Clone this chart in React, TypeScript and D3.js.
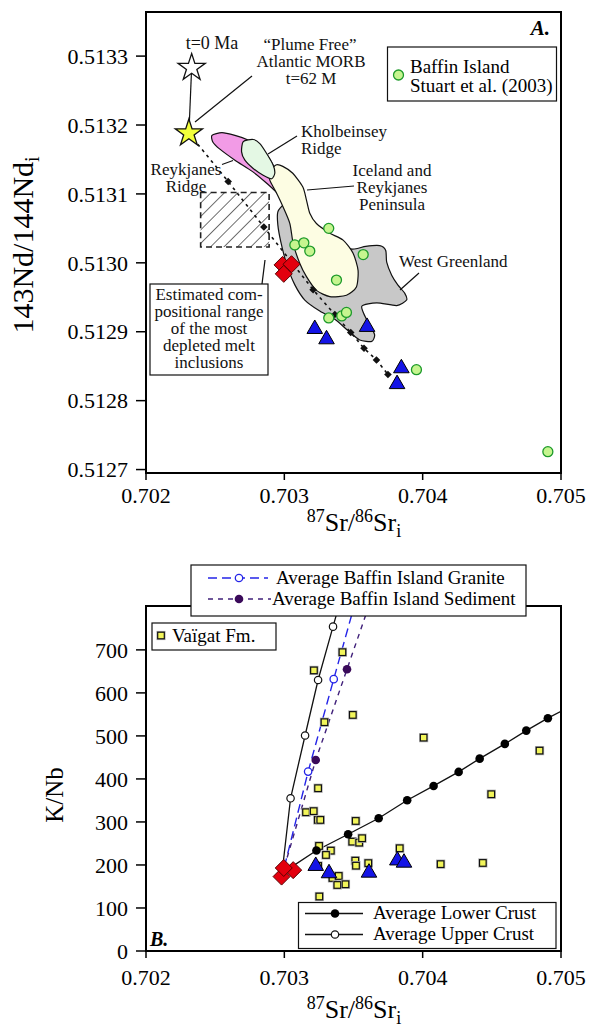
import React from "react";
import * as d3 from "d3";

const FONT = "'Liberation Serif','Times New Roman',Times,serif";

// ---------------- Panel A data ----------------
const srTicks = [0.702, 0.703, 0.704, 0.705];
const ndTicks = [0.5127, 0.5128, 0.5129, 0.513, 0.5131, 0.5132, 0.5133];
const ndTickLabels = ["0.5127", "0.5128", "0.5129", "0.5130", "0.5131", "0.5132", "0.5133"];

const baffinSr = [0.703076, 0.703141, 0.703184, 0.703321, 0.70357, 0.703377, 0.703321, 0.703415, 0.703449, 0.703955, 0.704905];
const baffinNd = [0.513026, 0.513029, 0.513017, 0.51305, 0.513012, 0.512975, 0.51292, 0.512923, 0.512928, 0.512845, 0.512726];

const triSrA = [0.70322, 0.703305, 0.703598, 0.703846, 0.703815];
const triNdA = [0.512904, 0.512889, 0.512907, 0.512847, 0.512824];

const redSrA = [0.702987, 0.703052, 0.702996];
const redNdA = [0.512997, 0.512998, 0.512984];

const mixSr = [0.70231, 0.702594, 0.702852, 0.703208, 0.703365, 0.70348, 0.703576, 0.703666, 0.703749];
const mixNd = [0.513188, 0.513118, 0.513052, 0.512961, 0.512925, 0.512899, 0.512876, 0.512859, 0.512838];

const morbNowSr = 0.70233, morbNowNd = 0.513283;
const morb62Sr = 0.70231, morb62Nd = 0.513188;

const meltBoxSr = [0.702395, 0.70289];
const meltBoxNd = [0.513023, 0.513102];

const pinkField: [number, number][] = [
  [0.702477, 0.513185], [0.702549, 0.513189], [0.702643, 0.513185], [0.702729, 0.513179], [0.702809, 0.513169],
  [0.702881, 0.513155], [0.702931, 0.513137], [0.702982, 0.513117], [0.703032, 0.513094], [0.703061, 0.513077],
  [0.703069, 0.513066], [0.703025, 0.513079], [0.702968, 0.513097], [0.702881, 0.513114], [0.702773, 0.513132],
  [0.702643, 0.513149], [0.702534, 0.513165], [0.702484, 0.513175],
];
const greenField: [number, number][] = [
  [0.702703, 0.513176], [0.702775, 0.513179], [0.702823, 0.513173], [0.702871, 0.513159], [0.702919, 0.513142],
  [0.702931, 0.51313], [0.702908, 0.513122], [0.702847, 0.513127], [0.702775, 0.513137], [0.702715, 0.513149],
  [0.702691, 0.513161],
];
const icelandField: [number, number][] = [
  [0.702895, 0.513132], [0.702939, 0.513142], [0.702989, 0.51314], [0.703061, 0.51313], [0.703134, 0.51311],
  [0.70316, 0.513091], [0.703184, 0.513072], [0.703232, 0.513057], [0.703329, 0.513043], [0.703425, 0.513033],
  [0.703497, 0.513014], [0.703533, 0.512989], [0.703521, 0.512965], [0.703449, 0.512953], [0.703329, 0.512951],
  [0.703232, 0.51296], [0.70316, 0.51298], [0.703112, 0.512999], [0.703064, 0.513028], [0.70304, 0.513057],
  [0.702991, 0.513081], [0.702939, 0.513103], [0.702895, 0.51312],
];
const greenlandField: [number, number][] = [
  [0.702953, 0.513074], [0.702996, 0.513084], [0.703047, 0.513079], [0.703083, 0.513065], [0.703184, 0.513048],
  [0.703365, 0.513033], [0.703487, 0.51302], [0.703588, 0.513024], [0.70369, 0.513025], [0.703733, 0.513018],
  [0.70374, 0.513001], [0.703776, 0.512982], [0.70382, 0.512968], [0.70387, 0.512956], [0.703884, 0.512946],
  [0.703812, 0.512938], [0.703668, 0.512942], [0.70356, 0.512937], [0.703596, 0.512917], [0.703632, 0.512905],
  [0.703653, 0.512895], [0.703632, 0.512886], [0.703545, 0.512888], [0.703458, 0.512902], [0.703365, 0.512918],
  [0.703256, 0.51293], [0.703148, 0.512946], [0.703076, 0.512968], [0.703018, 0.512997], [0.702975, 0.51303],
  [0.702953, 0.513055],
];

// ---------------- Panel B data ----------------
const knbTicks = [0, 100, 200, 300, 400, 500, 600, 700];

const vaigatSr = [0.70342, 0.703214, 0.703495, 0.70329, 0.704007, 0.704845, 0.703244, 0.704496, 0.703157, 0.703212,
  0.703242, 0.70326, 0.703516, 0.703491, 0.703541, 0.703562, 0.703251, 0.703336, 0.703301, 0.703834,
  0.703244, 0.703513, 0.703518, 0.703607, 0.703348, 0.703393, 0.703383, 0.703442, 0.703253, 0.70413, 0.704435];
const vaigatKNb = [694.6, 652.3, 548.8, 531.9, 496.0, 465.8, 378.4, 364.4, 322.6, 325.1,
  304.7, 304.7, 302.3, 254.2, 251.9, 262.1, 244.2, 233.3, 223.3, 238.8,
  197.7, 210.0, 198.4, 204.2, 169.8, 174.4, 153.5, 155.1, 126.7, 201.9, 204.7];

const triSrB = [0.703227, 0.703323, 0.703612, 0.703817, 0.703865];
const triKNbB = [197.7, 180.7, 182.1, 210.5, 205.3];

const redSrB = [0.70298, 0.703064, 0.702996];
const redKNbB = [173, 188, 193];

const upperSr = [0.70299, 0.703045, 0.70315, 0.703244, 0.703352, 0.703394];
const upperKNb = [200, 355, 501, 630, 754, 802];
const lowerSr = [0.70305, 0.703232, 0.703461, 0.703682, 0.703888, 0.704079, 0.70426, 0.704412, 0.704594, 0.704749, 0.704905, 0.705];
const lowerKNb = [195, 233.7, 271.4, 308.6, 350.5, 383.7, 416.3, 447.2, 481.4, 512.3, 541.2, 557];
const graniteSr = [0.703, 0.703172, 0.703357, 0.703505];
const graniteKNb = [195, 417, 632, 802];
const sedimentSr = [0.703, 0.703227, 0.703453, 0.703611];
const sedimentKNb = [195, 444, 655, 802];

const diamond = (cx: number, cy: number, r: number) =>
  `M${cx},${cy - r}L${cx + r},${cy}L${cx},${cy + r}L${cx - r},${cy}Z`;

export default function App() {
  const x = d3.scaleLinear().domain([0.702, 0.705]).range([146, 561]);
  const yA = d3.scaleLinear().domain([0.512695, 0.513364]).range([473, 12]);
  const yB = d3.scaleLinear().domain([0, 802]).range([951, 606]);

  const polyA = d3.line<[number, number]>().x((d) => x(d[0])).y((d) => yA(d[1])).curve(d3.curveCardinalClosed.tension(0.3));
  const star = d3.symbol(d3.symbolStar, 230)() as string;
  const tri = d3.symbol(d3.symbolTriangle, 105)() as string;

  const lineB = (sr: number[], v: number[]) =>
    d3.line<number>().x((d) => x(sr[d])).y((d) => yB(v[d]))(sr.map((_, i) => i)) as string;
  const lineA = d3.line<number>().x((d) => x(mixSr[d])).y((d) => yA(mixNd[d]))(mixSr.map((_, i) => i)) as string;

  const [ax0, ax1] = x.range();
  const [ayB, ayT] = yA.range();
  const [byB, byT] = yB.range();

  const greenCircle = (cx: number, cy: number, k: string) => (
    <circle key={k} cx={cx} cy={cy} r={5} fill="#c6f58f" stroke="#1d9a2a" strokeWidth={1.3} />
  );
  const ysq = (cx: number, cy: number, k: string) => (
    <g key={k}>
      <rect x={cx - 4.6} y={cy - 4.6} width={9.2} height={9.2} fill="#b0b0b0" />
      <rect x={cx - 3.3} y={cy - 3.3} width={6.6} height={6.6} fill="#f2f55a" stroke="#111" strokeWidth={1.2} />
    </g>
  );

  return (
    <svg width={591} height={1032} style={{ position: "absolute", left: 0, top: 0, background: "#fff" }} fontFamily={FONT}>
      <defs>
        <pattern id="hatch" patternUnits="userSpaceOnUse" width={9.5} height={9.5} patternTransform="rotate(45)">
          <line x1={0} y1={0} x2={0} y2={9.5} stroke="#222" strokeWidth={1.3} />
        </pattern>
        <clipPath id="clipB">
          <rect x={ax0} y={byT} width={ax1 - ax0} height={byB - byT} />
        </clipPath>
      </defs>

      {/* ================= PANEL A ================= */}
      <g>
        <path d={polyA(greenlandField) as string} fill="#c8c8c8" stroke="#111" strokeWidth={1.2} />
        <path d={polyA(pinkField) as string} fill="#f29be6" stroke="#111" strokeWidth={1.2} />
        <path d={polyA(icelandField) as string} fill="#fdfde3" stroke="#111" strokeWidth={1.2} />
        <path d={polyA(greenField) as string} fill="#e4f8e4" stroke="#111" strokeWidth={1.2} />

        <rect x={x(meltBoxSr[0])} y={yA(meltBoxNd[1])} width={x(meltBoxSr[1]) - x(meltBoxSr[0])}
          height={yA(meltBoxNd[0]) - yA(meltBoxNd[1])} fill="url(#hatch)" stroke="#222" strokeWidth={1.6} strokeDasharray="6,4" />

        {/* leader lines */}
        <g stroke="#111" strokeWidth={1.2}>
          <line x1={252} y1={76} x2={195} y2={122} />
          <line x1={297} y1={136} x2={268} y2={154} />
          <line x1={222} y1={164.5} x2={233} y2={160.5} />
          <line x1={354} y1={186} x2={307} y2={190} />
          <line x1={419} y1={273} x2={400} y2={290} />
          <line x1={262} y1={284} x2={265} y2={260} />
        </g>

        {/* mixing line */}
        <path d={lineA} fill="none" stroke="#111" strokeWidth={1.6} strokeDasharray="3,4" />
        <line x1={x(morbNowSr)} y1={yA(morbNowNd)} x2={x(morb62Sr)} y2={yA(morb62Nd)} stroke="#111" strokeWidth={1.2} />
        {mixSr.slice(1).map((s, i) => (
          <path key={"md" + i} d={diamond(x(s), yA(mixNd[i + 1]), 3.8)} fill="#111" />
        ))}

        {baffinSr.map((s, i) => greenCircle(x(s), yA(baffinNd[i]), "bc" + i))}
        {triSrA.map((s, i) => (
          <path key={"ta" + i} d={tri} transform={`translate(${x(s)},${yA(triNdA[i])})`} fill="#1414e6" stroke="#000" strokeWidth={1} />
        ))}
        {redSrA.map((s, i) => (
          <path key={"ra" + i} d={diamond(x(s), yA(redNdA[i]), 8.5)} fill="#e3000e" stroke="#5a0000" strokeWidth={1} />
        ))}
        <path d={star} transform={`translate(${x(morbNowSr)},${yA(morbNowNd)})`} fill="#fff" stroke="#111" strokeWidth={1.3} />
        <path d={star} transform={`translate(${x(morb62Sr)},${yA(morb62Nd)})`} fill="#f2ff3a" stroke="#111" strokeWidth={1.3} />

        {/* annotations */}
        <g fontSize={17} fill="#111">
          <text x={212} y={49} textAnchor="middle" fontSize={18}>t=0 Ma</text>
          <text x={310} y={50} textAnchor="middle">“Plume Free”</text>
          <text x={311} y={67} textAnchor="middle">Atlantic MORB</text>
          <text x={311} y={84} textAnchor="middle">t=62 M</text>
          <text x={301} y={137}>Kholbeinsey</text>
          <text x={301} y={154}>Ridge</text>
          <text x={186} y={175} textAnchor="middle">Reykjanes</text>
          <text x={186} y={192} textAnchor="middle">Ridge</text>
          <text x={392} y={176} textAnchor="middle">Iceland and</text>
          <text x={392} y={193} textAnchor="middle">Reykjanes</text>
          <text x={392} y={210} textAnchor="middle">Peninsula</text>
          <text x={399} y={267}>West Greenland</text>
        </g>
        <rect x={150} y={284} width={118} height={91} fill="#fff" stroke="#111" strokeWidth={1.2} />
        <g fontSize={17} fill="#111" textAnchor="middle">
          <text x={209} y={300}>Estimated com-</text>
          <text x={209} y={317}>positional range</text>
          <text x={209} y={334}>of the most</text>
          <text x={209} y={351}>depleted melt</text>
          <text x={209} y={368}>inclusions</text>
        </g>
        <text x={550} y={35} textAnchor="end" fontSize={21} fontWeight="bold" fontStyle="italic">A.</text>

        {/* legend A */}
        <rect x={387.5} y={47} width={169} height={54} fill="#fff" stroke="#111" strokeWidth={1.2} />
        {greenCircle(398.5, 75, "lg")}
        <text x={410} y={73} fontSize={19}>Baffin Island</text>
        <text x={410} y={92} fontSize={19}>Stuart et al. (2003)</text>

        {/* frame and axes */}
        <rect x={ax0} y={ayT} width={ax1 - ax0} height={ayB - ayT} fill="none" stroke="#000" strokeWidth={2} />
        {ndTicks.map((t, i) => (
          <g key={"nt" + i}>
            <line x1={ax0 - 10} x2={ax0} y1={yA(t)} y2={yA(t)} stroke="#000" strokeWidth={1.5} />
            <text x={128} y={yA(t)} dy="0.35em" textAnchor="end" fontSize={22}>{ndTickLabels[i]}</text>
          </g>
        ))}
        {srTicks.map((t, i) => (
          <g key={"st" + i}>
            <line x1={x(t)} x2={x(t)} y1={ayB} y2={ayB + 7} stroke="#000" strokeWidth={1.5} />
            <text x={x(t)} y={503} textAnchor="middle" fontSize={22}>{t.toFixed(3)}</text>
          </g>
        ))}
        <text x={354} y={531} textAnchor="middle" fontSize={26}>
          <tspan fontSize={18} dy={-9}>87</tspan><tspan dy={9}>Sr/</tspan><tspan fontSize={18} dy={-9}>86</tspan><tspan dy={9}>Sr</tspan><tspan fontSize={18} dy={6}>i</tspan>
        </text>
        <text transform="translate(33,245) rotate(-90)" textAnchor="middle" fontSize={30}>
          143Nd/144Nd<tspan fontSize={20} dy={6}>i</tspan>
        </text>
      </g>

      {/* ================= PANEL B ================= */}
      <g>
        <g clipPath="url(#clipB)">
          <path d={lineB(upperSr, upperKNb)} fill="none" stroke="#111" strokeWidth={1.3} />
          <path d={lineB(lowerSr, lowerKNb)} fill="none" stroke="#111" strokeWidth={1.3} />
          <path d={lineB(graniteSr, graniteKNb)} fill="none" stroke="#2424e8" strokeWidth={1.4} strokeDasharray="9,5" />
          <path d={lineB(sedimentSr, sedimentKNb)} fill="none" stroke="#40207a" strokeWidth={1.4} strokeDasharray="5,5" />
        </g>
        {vaigatSr.map((s, i) => ysq(x(s), yB(vaigatKNb[i]), "v" + i))}
        {upperSr.slice(1, -1).map((s, i) => (
          <circle key={"u" + i} cx={x(s)} cy={yB(upperKNb[i + 1])} r={3.7} fill="#fff" stroke="#111" strokeWidth={1.2} />
        ))}
        {lowerSr.slice(1, -1).map((s, i) => (
          <circle key={"l" + i} cx={x(s)} cy={yB(lowerKNb[i + 1])} r={4.3} fill="#000" />
        ))}
        {graniteSr.slice(1, -1).map((s, i) => (
          <circle key={"g" + i} cx={x(s)} cy={yB(graniteKNb[i + 1])} r={3.7} fill="#fff" stroke="#2424e8" strokeWidth={1.3} />
        ))}
        {sedimentSr.slice(1, -1).map((s, i) => (
          <circle key={"s" + i} cx={x(s)} cy={yB(sedimentKNb[i + 1])} r={4.3} fill="#3a0a5a" />
        ))}
        {triSrB.map((s, i) => (
          <path key={"tb" + i} d={tri} transform={`translate(${x(s)},${yB(triKNbB[i])})`} fill="#1414e6" stroke="#000" strokeWidth={1} />
        ))}
        {redSrB.map((s, i) => (
          <path key={"rb" + i} d={diamond(x(s), yB(redKNbB[i]), 8.5)} fill="#e3000e" stroke="#5a0000" strokeWidth={1} />
        ))}

        {/* frame */}
        <rect x={ax0} y={byT} width={ax1 - ax0} height={byB - byT} fill="none" stroke="#000" strokeWidth={2} />
        {knbTicks.map((t, i) => (
          <g key={"kt" + i}>
            <line x1={ax0 - 10} x2={ax0} y1={yB(t)} y2={yB(t)} stroke="#000" strokeWidth={1.5} />
            <text x={128} y={yB(t)} dy="0.35em" textAnchor="end" fontSize={22}>{t}</text>
          </g>
        ))}
        {srTicks.map((t, i) => (
          <g key={"sb" + i}>
            <line x1={x(t)} x2={x(t)} y1={byB} y2={byB + 7} stroke="#000" strokeWidth={1.5} />
            <text x={x(t)} y={985} textAnchor="middle" fontSize={22}>{t.toFixed(3)}</text>
          </g>
        ))}
        <text x={354} y={1018} textAnchor="middle" fontSize={26}>
          <tspan fontSize={18} dy={-9}>87</tspan><tspan dy={9}>Sr/</tspan><tspan fontSize={18} dy={-9}>86</tspan><tspan dy={9}>Sr</tspan><tspan fontSize={18} dy={6}>i</tspan>
        </text>
        <text transform="translate(63,795) rotate(-90)" textAnchor="middle" fontSize={25}>K/Nb</text>
        <text x={150} y={946} fontSize={20} fontWeight="bold" fontStyle="italic">B.</text>

        {/* top legend */}
        <rect x={191} y={565} width={335} height={51} fill="#fff" stroke="#111" strokeWidth={1.2} />
        <line x1={208} x2={268} y1={578} y2={578} stroke="#2424e8" strokeWidth={1.4} strokeDasharray="9,5" />
        <circle cx={239} cy={578} r={3.7} fill="#fff" stroke="#2424e8" strokeWidth={1.3} />
        <text x={276} y={584} fontSize={19}>Average Baffin Island Granite</text>
        <line x1={208} x2={271} y1={599} y2={599} stroke="#40207a" strokeWidth={1.4} strokeDasharray="5,5" />
        <circle cx={239} cy={599} r={4.3} fill="#3a0a5a" />
        <text x={272} y={605} fontSize={19}>Average Baffin Island Sediment</text>

        {/* Vaigat legend */}
        <rect x={152} y={623} width={124} height={27} fill="#fff" stroke="#111" strokeWidth={1.2} />
        {ysq(161, 635.5, "lv")}
        <text x={172} y={642} fontSize={19}>Vaïgat Fm.</text>

        {/* bottom legend */}
        <rect x={298.5} y={902.5} width={257.5} height={46} fill="#fff" stroke="#111" strokeWidth={1.2} />
        <line x1={305} x2={363} y1={913.5} y2={913.5} stroke="#111" strokeWidth={1.3} />
        <circle cx={335} cy={913.5} r={4.3} fill="#000" />
        <text x={373} y={919} fontSize={19}>Average Lower Crust</text>
        <line x1={305} x2={363} y1={934.5} y2={934.5} stroke="#111" strokeWidth={1.3} />
        <circle cx={335} cy={934.5} r={3.7} fill="#fff" stroke="#111" strokeWidth={1.2} />
        <text x={373} y={940} fontSize={19}>Average Upper Crust</text>
      </g>
    </svg>
  );
}
